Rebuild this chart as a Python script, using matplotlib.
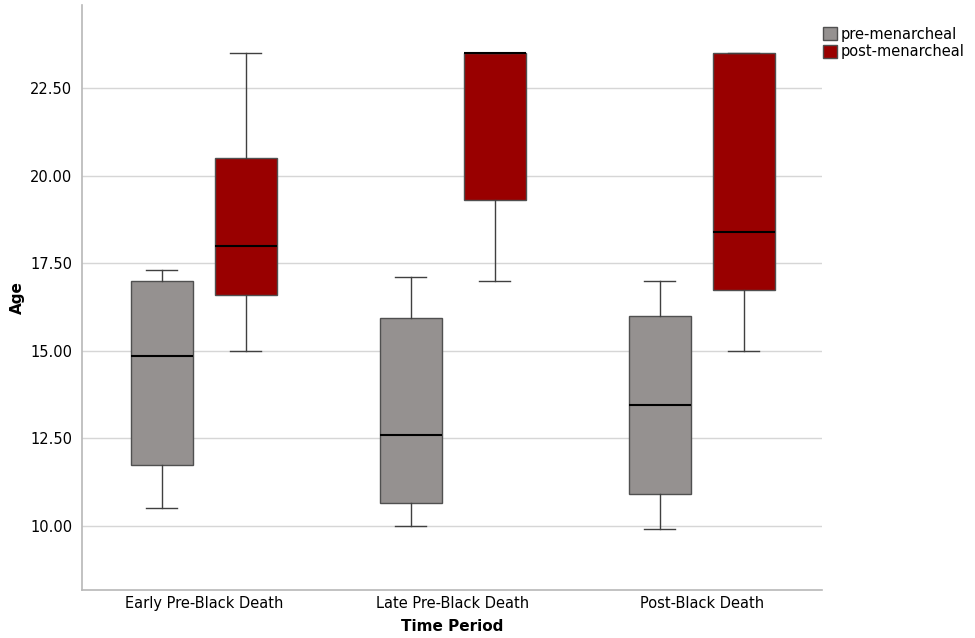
import matplotlib.pyplot as plt
from matplotlib.patches import Patch

# Values (whisker low, q1, median, q3, whisker high)
periods = ["Early Pre-Black Death", "Late Pre-Black Death", "Post-Black Death"]
groups = ["pre-menarcheal", "post-menarcheal"]

pre_low = [10.5, 10.0, 9.9]
pre_q1 = [11.75, 10.65, 10.9]
pre_med = [14.85, 12.6, 13.45]
pre_q3 = [17.0, 15.95, 16.0]
pre_high = [17.3, 17.1, 17.0]

post_low = [15.0, 17.0, 15.0]
post_q1 = [16.6, 19.3, 16.75]
post_med = [18.0, 23.5, 18.4]
post_q3 = [20.5, 23.5, 23.5]
post_high = [23.5, 23.5, 23.5]

colors = ["#959190", "#990000"]
offset = 0.169
width = 0.249


def make_stats(low, q1, med, q3, high):
    return [{"whislo": a, "q1": b, "med": c, "q3": d, "whishi": e, "fliers": []}
            for a, b, c, d, e in zip(low, q1, med, q3, high)]


fig = plt.figure(figsize=(9.75, 6.38), dpi=100)
ax = fig.add_axes([0.0841, 0.0752, 0.843 - 0.0841, 0.992 - 0.0752])

series = [
    make_stats(pre_low, pre_q1, pre_med, pre_q3, pre_high),
    make_stats(post_low, post_q1, post_med, post_q3, post_high),
]

for k, stats in enumerate(series):
    pos = [i + (offset if k else -offset) for i in range(len(periods))]
    ax.bxp(stats, positions=pos, widths=width, patch_artist=True,
           showfliers=False, manage_ticks=False,
           boxprops=dict(facecolor=colors[k], edgecolor="#505050", linewidth=1.0),
           medianprops=dict(color="black", linewidth=1.5),
           whiskerprops=dict(color="#404040", linewidth=1.0),
           capprops=dict(color="#404040", linewidth=1.0),
           zorder=3)

ax.set_xlim(-0.489, 2.482)
ax.set_ylim(8.17, 24.87)
ax.set_yticks([10, 12.5, 15, 17.5, 20, 22.5])
ax.set_yticklabels([f"{v:.2f}" for v in [10, 12.5, 15, 17.5, 20, 22.5]], fontsize=10.5)
ax.set_xticks(range(len(periods)))
ax.set_xticklabels(periods, fontsize=10.5)
ax.tick_params(axis="y", length=0, pad=7)
ax.tick_params(axis="x", length=0, pad=4)
ax.grid(axis="y", color="#d6d6d6", linewidth=1.0, zorder=0)
ax.set_axisbelow(True)

for s in ["top", "right"]:
    ax.spines[s].set_visible(False)
for s in ["left", "bottom"]:
    ax.spines[s].set_color("#b8b8b8")
    ax.spines[s].set_linewidth(1.2)

ax.set_ylabel("Age", fontsize=11, fontweight="bold", labelpad=4)
ax.set_xlabel("Time Period", fontsize=11, fontweight="bold", labelpad=6)

handles = [Patch(facecolor=c, edgecolor="#505050", label=g) for c, g in zip(colors, groups)]
fig.legend(handles=handles, loc="upper left", bbox_to_anchor=(0.838, 0.967),
           frameon=False, fontsize=10.5, handlelength=1.0, handleheight=1.0,
           handletextpad=0.2, labelspacing=0.15, borderaxespad=0)

fig.savefig("out.png", dpi=100)
